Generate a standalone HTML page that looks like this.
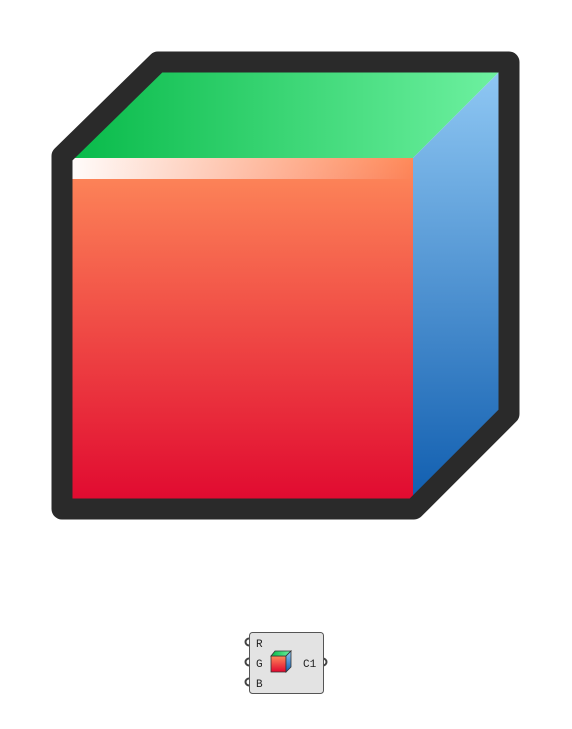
<!DOCTYPE html>
<html><head><style>
body{margin:0;background:#fff;width:572px;height:724px;overflow:hidden}
</style></head><body>
<svg width="572" height="724">
<defs>
<linearGradient id="front" x1="0" y1="0" x2="0" y2="1"><stop offset="0" stop-color="#fe8a5a"/><stop offset="1" stop-color="#e0072f"/></linearGradient>
<linearGradient id="top" x1="0" y1="0" x2="1" y2="0"><stop offset="0" stop-color="#06b948"/><stop offset="1" stop-color="#70f2a2"/></linearGradient>
<linearGradient id="side" x1="0" y1="0" x2="0" y2="1"><stop offset="0" stop-color="#92caf5"/><stop offset="1" stop-color="#0e5cae"/></linearGradient>
<linearGradient id="hl" x1="0" y1="0" x2="1" y2="0"><stop offset="0" stop-color="#fff"/><stop offset="1" stop-color="#fff" stop-opacity="0"/></linearGradient>
</defs>
<g>
<polygon points="62,158 413,158 413,509 62,509" fill="url(#front)"/>
<rect x="62" y="158" width="351" height="21" fill="url(#hl)"/>
<polygon points="62,158 158,62 509,62 413,158" fill="url(#top)"/>
<polygon points="413,158 509,62 509,414 413,509" fill="url(#side)"/>
<polygon points="62,156 158,62 509,62 509,414 414,509 62,509" fill="none" stroke="#2a2a2a" stroke-width="21" stroke-linejoin="round"/>
</g>
<g>
<g fill="#fff" stroke="#444" stroke-width="2">
<circle cx="249" cy="642" r="3.5"/>
<circle cx="249" cy="662" r="3.5"/>
<circle cx="249" cy="682" r="3.5"/>
<circle cx="323" cy="662" r="3.5"/>
</g>
<rect x="249.5" y="632.5" width="74" height="61" rx="3" fill="#e3e3e3" stroke="#555"/>
<g font-family="Liberation Mono, monospace" font-size="11" fill="#222">
<text x="256" y="647">R</text>
<text x="256" y="667">G</text>
<text x="256" y="687">B</text>
<text x="303" y="667">C1</text>
</g>
<g>
<polygon points="271,656 286,656 286,672 271,672" fill="url(#front)" stroke="#333" stroke-width="0.8"/>
<polygon points="271,656 275,651 291,651 286,656" fill="url(#top)" stroke="#333" stroke-width="0.8"/>
<polygon points="286,656 291,651 291,667 286,672" fill="url(#side)" stroke="#333" stroke-width="0.8"/>
</g>
</g>
</svg>
</body></html>
